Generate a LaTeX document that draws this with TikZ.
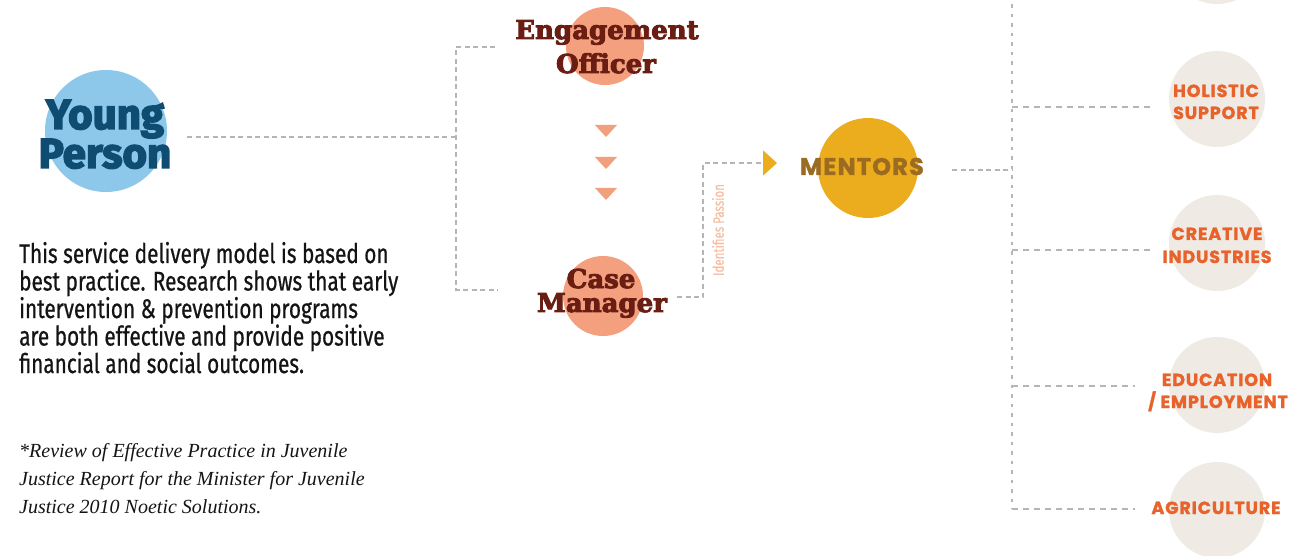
\documentclass[tikz,border=0pt]{standalone}
\usepackage{fontspec}
\usetikzlibrary{arrows.meta,calc}

\newfontfamily\heavysans{Fira Sans}[FakeBold=3.5]
\newfontfamily\slabfont{DejaVu Serif}[FakeBold=3.5]
\newfontfamily\capsfont{Poppins}[LetterSpace=5, FakeBold=1.5]
\newfontfamily\condfont{Fira Sans}[FakeStretch=0.77, FakeBold=0.6]
\newfontfamily\notefont{Liberation Serif}

\definecolor{ypblue}{HTML}{8DC8EA}
\definecolor{yptext}{HTML}{0F4C72}
\definecolor{salmon}{HTML}{F4A07F}
\definecolor{maroon}{HTML}{6A1D12}
\definecolor{trifill}{HTML}{F0A07C}
\definecolor{mgold}{HTML}{EBAD1E}
\definecolor{mtext}{HTML}{9C6B22}
\definecolor{beige}{HTML}{EFEBE4}
\definecolor{otext}{HTML}{E8632B}
\definecolor{dashgray}{HTML}{B5B5B5}
\definecolor{passion}{HTML}{F6BFA3}
\definecolor{bodytext}{HTML}{141414}

\tikzset{
  disc/.style={circle, inner sep=0pt, minimum size=#1},
  dashline/.style={draw=dashgray, line width=1.5pt, dash pattern=on 5pt off 3.5pt},
  trunkline/.style={draw=dashgray, line width=1.5pt, dash pattern=on 3.5pt off 6pt},
  stubline/.style={draw=dashgray, line width=1.5pt, dash pattern=on 6pt off 5pt},
  ypfont/.style={text=yptext, font=\heavysans\bfseries\fontsize{42}{42}\selectfont, inner sep=0pt, anchor=base},
  slab/.style={text=maroon, font=\slabfont\bfseries\fontsize{26}{26}\selectfont, inner sep=0pt, anchor=base},
  area/.style={text=otext, font=\capsfont\bfseries\fontsize{17.5}{17.5}\selectfont, inner sep=0pt, anchor=base},
  bodyline/.style={text=bodytext, font=\condfont\fontsize{27}{27}\selectfont, inner sep=0pt, anchor=base west},
  noteline/.style={text=bodytext, font=\notefont\itshape\fontsize{20}{20}\selectfont, inner sep=0pt, anchor=base west},
}

\begin{document}
\begin{tikzpicture}[x=1pt, y=-1pt]
\useasboundingbox (0,0) rectangle (1307,556);
\clip (0,0) rectangle (1307,556);
\fill[white] (0,0) rectangle (1307,556);

% ---- discs ----
\node[disc=122pt, fill=ypblue] (yp) at (106,131) {};
\node[disc=78pt, fill=salmon] (eo) at (605,46) {};
\node[disc=80pt, fill=salmon] (cm) at (603,296) {};
\node[disc=100pt, fill=mgold] (mt) at (868,168) {};
\node[disc=96pt, fill=beige] (top) at (1217,-44) {};
\node[disc=96pt, fill=beige] (hs) at (1217,99) {};
\node[disc=96pt, fill=beige] (ci) at (1217,243) {};
\node[disc=96pt, fill=beige] (ee) at (1217,385) {};
\node[disc=96pt, fill=beige] (ag) at (1217,510) {};

% ---- disc labels ----
\node[ypfont] (yp1) at (105,129) {Young};
\node[ypfont] (yp2) at (105,168) {Person};
\node[slab] (eo1) at (607,39) {Engagement};
\node[slab] (eo2) at (606,73) {Officer};
\node[slab] (cm1) at (601,288) {Case};
\node[slab] (cm2) at (602,312) {Manager};
\node[text=mtext, font=\capsfont\bfseries\fontsize{24}{24}\selectfont, inner sep=0pt, anchor=base] (mt1) at (862,175) {MENTORS};
\node[area] (hs1) at (1216,97) {HOLISTIC};
\node[area] (hs2) at (1216,119) {SUPPORT};
\node[area] (ci1) at (1217,240) {CREATIVE};
\node[area] (ci2) at (1217,263) {INDUSTRIES};
\node[area] (ee1) at (1217,386) {EDUCATION};
\node[area] (ee2) at (1218,408) {/ EMPLOYMENT};
\node[area] (ag1) at (1216,514) {AGRICULTURE};

% ---- step markers between the officers ----
\foreach \ty in {125,157,188}
  \fill[trifill] (595,\ty) -- (617,\ty) -- (606,\ty+12) -- cycle;

% ---- connector end points ----
\coordinate (ypout) at (187,137);
\coordinate (jl) at (456,137);
\coordinate (jltop) at (456,47);
\coordinate (jlbot) at (456,290);
\coordinate (eoin) at (495,47);
\coordinate (cmin) at (498,290);
\coordinate (cmout) at (677,297);
\coordinate (pbend) at (703,297);
\coordinate (ptop) at (703,163);
\coordinate (mtin) at (777,163);
\coordinate (mtout) at (952,170);
\coordinate (jr) at (1012,170);
\coordinate (trtop) at (1012,-5);
\coordinate (trbot) at (1012,509);
\coordinate (hsin) at (1150,107);
\coordinate (ciin) at (1150,250);
\coordinate (eein) at (1135,386);
\coordinate (agin) at (1135,509);

% ---- connectors ----
\draw[dashline] (ypout) -- (jl);
\draw[dashline] (eoin) -- (jltop) -- (jlbot) -- (cmin);
\draw[dashline, -{Triangle[length=14pt, width=25pt, color=mgold]}]
  (cmout) -- (pbend) -- (ptop) -- (mtin);
\node[text=passion, font=\condfont\fontsize{15}{15}\selectfont, rotate=90, inner sep=0pt]
  (passion) at (718,230) {Identifies Passion};
\draw[dashline] (mtout) -- (jr);
\draw[trunkline] (trtop) -- (trbot);
\draw[stubline] (jr |- hsin) -- (hsin);
\draw[stubline] (jr |- ciin) -- (ciin);
\draw[stubline] (jr |- eein) -- (eein);
\draw[stubline] (trbot) -- (agin);

% ---- explanatory text ----
\node[bodyline] (b1) at (19,263) {This service delivery model is based on};
\node[bodyline] (b2) at (19,290.5) {best practice. Research shows that early};
\node[bodyline] (b3) at (19,318) {intervention \& prevention programs};
\node[bodyline] (b4) at (19,345.5) {are both effective and provide positive};
\node[bodyline] (b5) at (19,373) {financial and social outcomes.};

\node[noteline] (n1) at (19,457) {*Review of Effective Practice in Juvenile};
\node[noteline] (n2) at (19,485) {Justice Report for the Minister for Juvenile};
\node[noteline] (n3) at (19,513) {Justice 2010 Noetic Solutions.};
\end{tikzpicture}
\end{document}
